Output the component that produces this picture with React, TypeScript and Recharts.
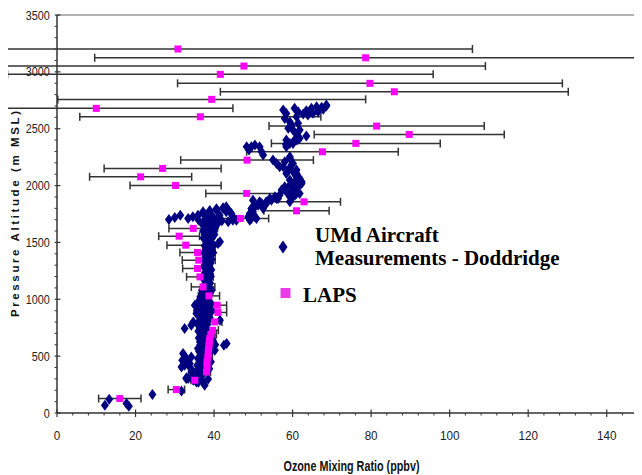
import React from 'react';
import { ScatterChart, Scatter, XAxis, YAxis, ErrorBar, ReferenceLine, Legend } from 'recharts';

// LAPS model values: ozone (ppbv), altitude (m MSL), error (+/- ppbv)
const lapsOzone = [30.8, 78.6, 47.6, 41.6, 79.7, 85.9, 39.4, 10.0, 36.5, 81.4, 89.7, 76.1, 67.6, 48.4, 26.9, 21.3, 30.2, 48.3, 62.9, 61.0, 46.7, 34.7, 31.1, 32.8, 35.8, 36.1, 35.8, 36.4, 37.2, 38.7, 40.8, 41.0, 40.2, 39.6, 39.2, 38.9, 38.8, 38.7, 38.6, 38.5, 38.4, 38.2, 38.2, 38.1, 35.1, 30.4, 16.0];
const lapsAlt = [3201, 3124, 3051, 2978, 2899, 2825, 2758, 2679, 2605, 2523, 2450, 2371, 2297, 2224, 2151, 2077, 2001, 1931, 1857, 1778, 1711, 1623, 1555, 1476, 1412, 1344, 1271, 1197, 1109, 1030, 948, 884, 801, 728, 690, 655, 625, 596, 560, 523, 486, 449, 405, 361, 288, 206, 127];
const lapsErr = [75, 69, 61.5, 54.2, 49, 44.3, 39.2, 34.8, 30.7, 27.4, 24.2, 21.5, 19.3, 16.9, 14.9, 13, 11.6, 10.4, 9.3, 8.3, 7.2, 6.2, 5.2, 4.8, 4.5, 4.2, 3.8, 3.4, 3.0, 2.7, 2.4, 2.2, 1.8, 1.5, 1.4, 1.3, 1.3, 1.2, 1.2, 1.1, 1.1, 1.0, 1.0, 1.0, 1.0, 2.1, 5.4];

// UMd aircraft measurements: [ozone (ppbv), altitude (m MSL)]
const aircraftPoints: [number, number][] = [
  [13.3, 121], [12.2, 68], [17.7, 83], [18.3, 59], [24.3, 162], [31.7, 194], [33.0, 311], [35.1, 332], [37.6, 244],
  [32.5, 743], [34.2, 772], [43.2, 611], [42.5, 596], [41.5, 816], [39.7, 640], [34.7, 801], [32.1, 523], [33.0, 479],
  [34.2, 493], [32.5, 420], [33.8, 405], [33.4, 303], [34.7, 361], [35.5, 273], [36.4, 625], [35.9, 567], [35.1, 948],
  [35.5, 875], [39.7, 625], [40.2, 552], [41.5, 1505], [31.9, 464], [33.8, 435], [31.7, 405], [34.2, 361], [32.9, 303],
  [34.7, 288], [41.0, 1491],
  [37.5, 1690], [38.8, 1690], [40.2, 1690], [41.0, 1690],
  [37.0, 1660], [38.4, 1660], [39.6, 1660], [40.8, 1660],
  [37.8, 1630], [39.0, 1630], [40.3, 1630],
  [37.2, 1600], [38.5, 1600], [39.8, 1600],
  [37.6, 1570], [38.9, 1570], [40.1, 1570],
  [37.3, 1540], [38.6, 1540], [39.5, 1540],
  [38.0, 1505], [39.2, 1505],
  [37.6, 1470], [38.7, 1470], [39.9, 1470],
  [37.9, 1440], [39.1, 1440],
  [37.4, 1410], [38.6, 1410], [39.8, 1410],
  [37.8, 1380], [39.0, 1380],
  [37.5, 1350], [38.3, 1350], [39.4, 1350],
  [37.9, 1320], [39.1, 1320],
  [37.4, 1290], [38.7, 1290],
  [38.0, 1260], [39.3, 1260],
  [37.6, 1230], [38.8, 1230],
  [37.9, 1200], [39.2, 1200],
  [37.5, 1170], [38.6, 1170],
  [37.8, 1140], [39.0, 1140],
  [37.3, 1110], [38.5, 1110],
  [36.9, 1080], [38.2, 1080], [39.4, 1080],
  [37.0, 1050], [38.0, 1050], [39.0, 1050],
  [36.5, 1020], [37.6, 1020], [38.6, 1020],
  [36.2, 990], [37.3, 990], [38.4, 990],
  [35.8, 960], [36.9, 960], [38.0, 960], [39.3, 960],
  [36.1, 930], [37.4, 930], [38.6, 930],
  [35.6, 900], [36.8, 900], [38.1, 900], [39.5, 900],
  [36.0, 870], [37.2, 870], [38.4, 870],
  [36.5, 840], [37.7, 840], [38.9, 840],
  [36.2, 810], [37.4, 810],
  [35.8, 780], [36.9, 780], [38.3, 780],
  [36.4, 750], [37.6, 750],
  [36.0, 720], [37.1, 720], [38.5, 720],
  [36.6, 690], [37.8, 690],
  [36.1, 660], [37.3, 660], [39.4, 660],
  [37.0, 630], [38.2, 630],
  [36.5, 600], [37.9, 600], [39.8, 600], [40.3, 600],
  [36.8, 570], [38.1, 570],
  [36.2, 540], [37.4, 540], [39.0, 540],
  [36.6, 510], [37.7, 510],
  [35.9, 480], [37.1, 480],
  [36.3, 450], [37.5, 450], [39.2, 450],
  [35.7, 420], [36.9, 420],
  [36.1, 390], [37.3, 390], [38.8, 390],
  [35.4, 360], [36.5, 360],
  [35.9, 330], [37.0, 330],
  [35.3, 300], [36.6, 300], [38.5, 300],
  [36.0, 270], [37.2, 270],
  [28.5, 1702], [30.0, 1720], [31.4, 1740], [33.4, 1711], [34.6, 1725], [35.9, 1740], [37.2, 1755], [38.9, 1769],
  [40.6, 1784], [42.3, 1799], [43.1, 1813], [44.0, 1769], [44.8, 1725], [45.7, 1696], [37.2, 1769], [38.9, 1781],
  [40.6, 1796], [42.3, 1805], [43.1, 1769], [44.4, 1755], [41.4, 1740], [39.7, 1725], [38.1, 1725], [44.8, 1694],
  [43.6, 1681], [36.0, 1700], [39.0, 1700], [41.0, 1710], [42.0, 1690],
  [48.7, 1725], [49.5, 1711], [50.4, 1725], [49.1, 1755], [49.9, 1769], [49.5, 1799], [50.4, 1813], [51.2, 1828],
  [52.1, 1843], [53.3, 1857], [54.6, 1872], [55.9, 1887], [57.2, 1960], [58.0, 1989], [58.4, 1945], [59.7, 1960],
  [61.0, 1975], [61.8, 1931], [60.6, 1916], [59.3, 1901], [59.3, 2004], [60.6, 2033], [61.8, 2063], [61.0, 2107],
  [51.6, 1857], [56.7, 1916], [55.5, 1901], [54.2, 1887], [52.9, 1828], [50.8, 1711], [49.1, 1696], [49.9, 1872],
  [52.5, 1799], [53.3, 1843], [56.3, 1887], [59.3, 1857], [61.4, 1989], [62.3, 2033], [61.0, 1931], [60.1, 1901],
  [55.0, 2224], [55.9, 2195], [56.7, 2165], [58.0, 2209], [59.3, 2238], [59.7, 2180], [58.9, 2136], [60.1, 2121],
  [61.0, 2077], [61.4, 2033], [59.3, 2048], [60.1, 1989], [62.3, 2019], [57.6, 2165], [59.3, 2253], [60.1, 2195],
  [58.4, 2107], [61.0, 2136],
  [49.5, 2341], [48.9, 2312], [50.4, 2356], [51.6, 2341], [52.1, 2297], [52.5, 2268], [48.3, 2341],
  [58.4, 2341], [58.3, 2362], [61.1, 2400], [60.1, 2370], [57.6, 2664], [58.4, 2634], [58.0, 2590], [59.3, 2560],
  [60.5, 2679], [61.4, 2650], [61.0, 2606], [59.7, 2533], [58.9, 2504], [60.1, 2489], [61.4, 2548], [61.8, 2489],
  [61.1, 2445], [60.5, 2401], [61.8, 2416], [63.5, 2436], [59.3, 2370], [58.4, 2401],
  [68.6, 2708], [67.4, 2688], [66.1, 2693], [64.8, 2680], [63.5, 2659], [62.7, 2630], [63.9, 2621], [65.2, 2636],
  [66.5, 2650], [67.8, 2671], [68.6, 2699],
];

const xTicks = [0, 4, 8, 12, 16, 20, 24, 28, 32, 36, 40, 44, 48, 52, 56, 60, 64, 68, 72, 76, 80, 84, 88, 92, 96, 100, 104, 108, 112, 116, 120, 124, 128, 132, 136, 140, 144, 148];
const xMajor = [0, 20, 40, 60, 80, 100, 120, 140];
const yTicks = [0, 100, 200, 300, 400, 500, 600, 700, 800, 900, 1000, 1100, 1200, 1300, 1400, 1500, 1600, 1700, 1800, 1900, 2000, 2100, 2200, 2300, 2400, 2500, 2600, 2700, 2800, 2900, 3000, 3100, 3200, 3300, 3400, 3500];
const yMajor = [0, 500, 1000, 1500, 2000, 2500, 3000, 3500];

const lapsData = lapsOzone.map((x, i) => ({ x, y: lapsAlt[i], err: lapsErr[i] }));
const aircraftData = aircraftPoints.map(([x, y]) => ({ x, y }));

const NAVY = '#000080';
const PINK = '#ff00ff';
const narrow = '"Liberation Sans Narrow", "Arial Narrow", "Liberation Sans", Arial, sans-serif';
const serif = '"Liberation Serif", "Times New Roman", serif';

const XTick = (props: any) => {
  const { x, y, payload } = props;
  const v = payload.value;
  if (!xMajor.includes(v)) {
    return <line x1={x} x2={x} y1={y} y2={y + 2.5} stroke="#333" strokeWidth={1} />;
  }
  const s = String(v);
  return (
    <g>
      <line x1={x} x2={x} y1={y - 3.5} y2={y + 4} stroke="#333" strokeWidth={1.2} />
      <text x={x} y={y + 27.3} textAnchor="middle" fontSize={13} fill="#222" fontFamily={narrow}
        textLength={s.length * 6.5} lengthAdjust="spacingAndGlyphs">{s}</text>
    </g>
  );
};

const YTick = (props: any) => {
  const { x, y, payload } = props;
  const v = payload.value;
  if (!yMajor.includes(v)) {
    return <line x1={x - 2.5} x2={x} y1={y} y2={y} stroke="#333" strokeWidth={1} />;
  }
  const s = String(v);
  return (
    <g>
      <line x1={x - 2.3} x2={x + 3.4} y1={y} y2={y} stroke="#333" strokeWidth={1.2} />
      <text x={x - 7.3} y={y + 4.5} textAnchor="end" fontSize={12.5} fill="#222" fontFamily={narrow}
        textLength={s.length * 6} lengthAdjust="spacingAndGlyphs">{s}</text>
    </g>
  );
};

const Diamond = (props: any) => {
  const { cx, cy } = props;
  if (cx == null || cy == null) return null;
  return <path d={`M${cx},${cy - 5.5}L${cx + 4},${cy}L${cx},${cy + 5.5}L${cx - 4},${cy}Z`} fill={NAVY} />;
};

const Square = (props: any) => {
  const { cx, cy } = props;
  if (cx == null || cy == null) return null;
  return <rect x={cx - 3.5} y={cy - 3.5} width={7} height={7} fill={PINK} />;
};

const XTitle = (props: any) => {
  const vb = props.viewBox || { x: 49, y: 405, width: 589 };
  return (
    <text x={vb.x + vb.width / 2} y={463} textAnchor="middle" fontSize={14} fontWeight="bold" fill="#111"
      fontFamily={narrow} textLength={136} lengthAdjust="spacingAndGlyphs">Ozone Mixing Ratio (ppbv)</text>
  );
};

const YTitle = () => (
  <text x={10.5} y={206} transform="rotate(-90, 10.5, 206)" textAnchor="middle" fontSize={11.5} fontWeight="bold"
    fill="#111" fontFamily='"Liberation Sans", Arial, sans-serif' textLength={206} lengthAdjust="spacing">
    Pressure Altitude (m MSL)
  </text>
);

const LegendContent = () => (
  <svg width={320} height={110} style={{ display: 'block', overflow: 'visible' }}>
    <path d="M13,23.5L17.5,30L13,36.5L8.5,30Z" fill={NAVY} />
    <text x={45} y={25} fontFamily={serif} fontWeight="bold" fontSize={21} fill="#000">UMd Aircraft</text>
    <text x={45} y={48} fontFamily={serif} fontWeight="bold" fontSize={21} fill="#000">Measurements - Doddridge</text>
    <rect x={10.5} y={71} width={10} height={10} fill="#e83ce8" />
    <text x={33} y={85} fontFamily={serif} fontWeight="bold" fontSize={21} fill="#000">LAPS</text>
  </svg>
);

export default function App() {
  return (
    <div style={{ width: 634, height: 467, overflow: 'hidden' }}>
      <ScatterChart width={640} height={467} margin={{ top: 7, right: 2, bottom: 0, left: 0 }}>
        <XAxis type="number" dataKey="x" domain={[0, 150]} ticks={xTicks} interval={0} tickSize={0} tickMargin={0}
          height={62} allowDataOverflow axisLine={{ stroke: '#333', strokeWidth: 1.5 }} tickLine={false}
          tick={<XTick />} label={<XTitle />} />
        <YAxis type="number" dataKey="y" domain={[0, 3500]} ticks={yTicks} interval={0} tickSize={0} tickMargin={0}
          width={49} allowDataOverflow axisLine={{ stroke: '#333', strokeWidth: 1.5 }} tickLine={false}
          tick={<YTick />} label={<YTitle />} />
        <ReferenceLine y={3500} stroke="#999" strokeWidth={1.5} />
        <Scatter name="UMd Aircraft Measurements - Doddridge" data={aircraftData} shape={<Diamond />} isAnimationActive={false} />
        <Scatter name="LAPS" data={lapsData} shape={<Square />} isAnimationActive={false}>
          <ErrorBar dataKey="err" direction="x" width={4} stroke="#333" strokeWidth={1.5} />
        </Scatter>
        <Legend layout="vertical" align="center" verticalAlign="middle" content={<LegendContent />}
          wrapperStyle={{ left: 262, top: 209, width: 320, height: 110 }} />
      </ScatterChart>
    </div>
  );
}
